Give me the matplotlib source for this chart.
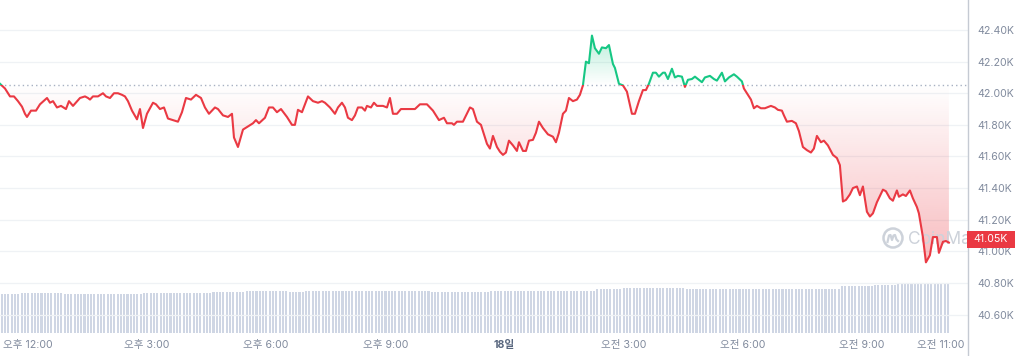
import numpy as np
import matplotlib
matplotlib.use("Agg")
import matplotlib.pyplot as plt
from matplotlib.patches import Rectangle, Circle
from matplotlib.lines import Line2D
from matplotlib.transforms import IdentityTransform

plt.rcParams['font.family'] = ['Inter', 'Noto Sans CJK KR', 'DejaVu Sans']

# ---- data: time in hours relative to 12:00 (day 17), price in thousands USD ----
hours = [-0.705, -0.579, -0.453, -0.353, -0.252, -0.151, -0.076, -0.025, 0.076, 0.202,
         0.302, 0.479, 0.554, 0.630, 0.730, 0.831, 0.957, 1.033, 1.134, 1.310,
         1.436, 1.511, 1.562, 1.637, 1.763, 1.889, 1.965, 2.065, 2.166, 2.267,
         2.368, 2.443, 2.519, 2.620, 2.746, 2.821, 2.897, 2.997, 3.149, 3.224,
         3.325, 3.426, 3.526, 3.652, 3.778, 3.879, 3.980, 4.106, 4.232, 4.358,
         4.458, 4.559, 4.710, 4.786, 4.912, 5.038, 5.139, 5.189, 5.290, 5.416,
         5.542, 5.668, 5.743, 5.819, 5.970, 6.071, 6.171, 6.272, 6.373, 6.524,
         6.650, 6.725, 6.801, 6.902, 7.053, 7.179, 7.305, 7.406, 7.481, 7.607,
         7.733, 7.809, 7.909, 7.985, 8.060, 8.161, 8.237, 8.312, 8.413, 8.489,
         8.539, 8.640, 8.715, 8.791, 8.942, 9.043, 9.118, 9.194, 9.295, 9.395,
         9.547, 9.748, 9.874, 10.050, 10.202, 10.353, 10.479, 10.554, 10.680, 10.730,
         10.806, 10.957, 11.134, 11.209, 11.310, 11.411, 11.562, 11.637, 11.713, 11.814,
         11.889, 11.965, 12.040, 12.116, 12.217, 12.317, 12.368, 12.469, 12.544, 12.620,
         12.720, 12.796, 12.872, 12.972, 13.098, 13.224, 13.300, 13.375, 13.476, 13.552,
         13.627, 13.728, 13.829, 13.904, 13.980, 14.055, 14.131, 14.207, 14.282, 14.383,
         14.458, 14.559, 14.635, 14.736, 14.786, 14.887, 14.987, 15.088, 15.214, 15.290,
         15.390, 15.491, 15.567, 15.642, 15.743, 15.819, 15.894, 15.995, 16.045, 16.121,
         16.222, 16.297, 16.373, 16.474, 16.549, 16.625, 16.725, 16.801, 16.877, 16.977,
         17.053, 17.179, 17.280, 17.355, 17.481, 17.557, 17.658, 17.783, 17.859, 17.985,
         18.035, 18.111, 18.212, 18.287, 18.363, 18.463, 18.564, 18.715, 18.816, 18.892,
         18.992, 19.043, 19.118, 19.244, 19.345, 19.421, 19.521, 19.622, 19.723, 19.798,
         19.874, 19.975, 20.050, 20.151, 20.277, 20.378, 20.453, 20.529, 20.605, 20.705,
         20.781, 20.882, 20.957, 21.033, 21.134, 21.209, 21.285, 21.385, 21.537, 21.612,
         21.713, 21.788, 21.889, 21.940, 22.040, 22.116, 22.217, 22.292, 22.393, 22.443,
         22.544, 22.620, 22.720, 22.796, 22.897, 22.947, 23.048, 23.123, 23.199]

price = [42.06, 42.03, 41.98, 41.98, 41.95, 41.915, 41.87, 41.85, 41.89, 41.89,
         41.93, 41.97, 41.94, 41.95, 41.91, 41.92, 41.90, 41.95, 41.92, 41.97,
         41.98, 41.97, 41.96, 41.98, 41.98, 42.00, 41.98, 41.97, 42.00, 42.00,
         41.99, 41.98, 41.95, 41.89, 41.835, 41.90, 41.78, 41.87, 41.94, 41.93,
         41.90, 41.91, 41.84, 41.83, 41.82, 41.88, 41.97, 41.96, 41.99, 41.97,
         41.91, 41.87, 41.91, 41.90, 41.86, 41.85, 41.87, 41.72, 41.66, 41.77,
         41.79, 41.81, 41.83, 41.81, 41.845, 41.91, 41.91, 41.88, 41.90, 41.85,
         41.80, 41.80, 41.895, 41.88, 41.98, 41.95, 41.94, 41.95, 41.94, 41.91,
         41.87, 41.91, 41.94, 41.91, 41.845, 41.83, 41.86, 41.91, 41.91, 41.89,
         41.92, 41.91, 41.94, 41.92, 41.92, 41.91, 41.97, 41.87, 41.87, 41.90,
         41.90, 41.90, 41.93, 41.93, 41.89, 41.83, 41.845, 41.81, 41.81, 41.80,
         41.82, 41.82, 41.91, 41.90, 41.82, 41.80, 41.68, 41.65, 41.73, 41.66,
         41.63, 41.61, 41.625, 41.70, 41.67, 41.635, 41.69, 41.635, 41.635, 41.70,
         41.705, 41.75, 41.82, 41.78, 41.74, 41.725, 41.69, 41.75, 41.87, 41.89,
         41.97, 41.95, 41.96, 41.99, 42.05, 42.20, 42.19, 42.365, 42.285, 42.25,
         42.29, 42.285, 42.305, 42.185, 42.16, 42.06, 42.05, 42.01, 41.87, 41.87,
         41.95, 42.02, 42.02, 42.06, 42.13, 42.13, 42.105, 42.13, 42.13, 42.09,
         42.155, 42.10, 42.11, 42.105, 42.04, 42.085, 42.09, 42.105, 42.09, 42.07,
         42.10, 42.11, 42.09, 42.08, 42.13, 42.075, 42.10, 42.12, 42.105, 42.075,
         42.03, 42.00, 41.96, 41.905, 41.92, 41.905, 41.905, 41.92, 41.91, 41.895,
         41.89, 41.86, 41.82, 41.825, 41.81, 41.76, 41.66, 41.64, 41.625, 41.65,
         41.73, 41.69, 41.70, 41.67, 41.61, 41.59, 41.545, 41.315, 41.325, 41.36,
         41.40, 41.41, 41.355, 41.41, 41.25, 41.22, 41.24, 41.31, 41.39, 41.38,
         41.335, 41.32, 41.385, 41.345, 41.36, 41.35, 41.385, 41.335, 41.28, 41.24,
         41.09, 40.93, 40.975, 41.09, 41.09, 40.99, 41.06, 41.065, 41.055]

base_price = 42.053          # opening price (dotted reference line)
last_label = "41.05K"

# volume (relative units) read as levels between time edges (hours)
vol_edges = [-0.20, 0.86, 2.90, 4.66, 5.47, 6.52, 6.98, 10.13, 11.64, 14.33,
             14.99, 16.55, 20.45, 21.28, 21.89, 22.64]
vol_levels = [118, 121, 117, 121, 123, 126, 124, 126, 122, 127, 133,
              136, 133, 140, 143, 146, 149]
bar_start, bar_end, bar_step = -0.66, 23.20, 5 / 60

yticks = [40.6, 40.8, 41.0, 41.2, 41.4, 41.6, 41.8, 42.0, 42.2, 42.4]
ytick_labels = ["40.60K", "40.80K", "41.00K", "41.20K", "41.40K", "41.60K",
                "41.80K", "42.00K", "42.20K", "42.40K"]
xticks = [0, 3, 6, 9, 12, 15, 18, 21, 23]
xtick_labels = ["오후 12:00", "오후 3:00", "오후 6:00", "오후 9:00", "18일",
                "오전 3:00", "오전 6:00", "오전 9:00", "오전 11:00"]

RED = "#ea3943"
GREEN = "#16c784"
GRID = "#eff2f5"
TXT = "#808a9d"
WM = "#cdd2da"

t = np.array(hours)
p = np.array(price)

W, H = 1018, 356
fig = plt.figure(figsize=(W / 100, H / 100), dpi=100)
fig.patch.set_facecolor("white")

ax_l, ax_r, ax_t, ax_b = 0, 968, 0, 333
pos = [ax_l / W, 1 - ax_b / H, (ax_r - ax_l) / W, (ax_b - ax_t) / H]

# volume axes (behind)
axv = fig.add_axes(pos)
axv.set_axis_off()
bar_t = np.arange(bar_start, bar_end + 1e-9, bar_step)
idx = np.searchsorted(vol_edges, bar_t)
vols = np.array(vol_levels)[idx]
axv.bar(bar_t, vols, width=bar_step * 0.62, color="#cfd6e4", linewidth=0)
axv.set_ylim(0, max(vol_levels) / 0.149)

ax = fig.add_axes(pos)
ax.patch.set_alpha(0)
xmin, xmax = -0.705, 23.68
ymin, ymax = 40.483, 42.59
axv.set_xlim(xmin, xmax)
for s in ax.spines.values():
    s.set_visible(False)

# grid lines
for yv in yticks:
    ax.axhline(yv, color=GRID, lw=0.9, zorder=0)
ax.axhline(base_price, color="#a7b1c2", lw=1.0, ls=(0, (1, 2.2)), zorder=1)

# gradient fills
def gradient_fill(y_from, y_to, rgb, a_from, a_to, vertsy):
    n = 256
    alphas = np.linspace(a_from, a_to, n)
    img = np.zeros((n, 1, 4))
    img[:, 0, :3] = matplotlib.colors.to_rgb(rgb)
    img[:, 0, 3] = alphas
    lo, hi = min(y_from, y_to), max(y_from, y_to)
    if y_from > y_to:
        img = img[::-1]
    im = ax.imshow(img, extent=[t[0], t[-1], lo, hi], origin="lower",
                   aspect="auto", zorder=2, interpolation="bilinear")
    verts = np.column_stack([np.r_[t[0], t, t[-1]],
                             np.r_[base_price, vertsy, base_price]])
    poly = plt.Polygon(verts, closed=True, transform=ax.transData,
                       facecolor="none", edgecolor="none")
    ax.add_patch(poly)
    im.set_clip_path(poly)

gradient_fill(base_price, p.min(), RED, 0.0, 0.34, np.minimum(p, base_price))
gradient_fill(base_price, p.max(), GREEN, 0.0, 0.30, np.maximum(p, base_price))
ax.set_xlim(xmin, xmax)
ax.set_ylim(ymin, ymax)

# price line, split colours at the base price
lr, = ax.plot(t, p, color=RED, lw=1.5, zorder=4, solid_joinstyle="round")
lg, = ax.plot(t, p, color=GREEN, lw=1.5, zorder=4, solid_joinstyle="round")
lr.set_clip_path(Rectangle((xmin, ymin), xmax - xmin, base_price - ymin,
                           transform=ax.transData))
lg.set_clip_path(Rectangle((xmin, base_price), xmax - xmin, ymax - base_price,
                           transform=ax.transData))

# axes ticks
ax.yaxis.tick_right()
ax.set_yticks(yticks)
ax.set_yticklabels(ytick_labels)
ax.tick_params(axis="y", length=0, pad=7, labelsize=7.6, labelcolor=TXT)
ax.set_xticks(xticks)
ax.set_xticklabels(xtick_labels)
ax.tick_params(axis="x", length=0, pad=5, labelsize=7.6, labelcolor=TXT)
for lab in ax.get_xticklabels():
    if lab.get_text() == "18일":
        lab.set_fontweight("bold")
        lab.set_color("#58667e")

# right axis line
fig.add_artist(Line2D([ax_r / W, ax_r / W], [0, 1], color="#c5cad3", lw=1.0))

# watermark logo (drawn as a shape) and name, clipped to the plot area
cx, cy = 893, H - 238
fig.add_artist(Circle((cx, cy), 9.5, transform=IdentityTransform(),
                      facecolor="none", edgecolor=WM, lw=1.8, zorder=3))
wave_x = np.array([-5.5, -4.0, -2.5, -1.0, 0.5, 2.0, 3.5, 5.0])
wave_y = np.array([-4.0, 2.5, 3.0, -2.0, 2.5, 3.0, -1.5, -3.0])
fig.add_artist(Line2D(cx + wave_x, cy + wave_y, transform=IdentityTransform(),
                      color=WM, lw=1.6, solid_joinstyle="round", zorder=3))
ax.text((908 - ax_l) / (ax_r - ax_l), 1 - (239 - ax_t) / (ax_b - ax_t),
        "CoinMarketCap", transform=ax.transAxes, fontsize=12.5, color=WM,
        ha="left", va="center", clip_on=True, zorder=3)

# last price tag
fig.add_artist(Rectangle((967 / W, 1 - 248 / H), 48 / W, 17 / H,
                         transform=fig.transFigure, facecolor=RED,
                         edgecolor="none", zorder=10))
fig.text(991 / W, 1 - 239.5 / H, last_label, fontsize=7.6, color="white",
         ha="center", va="center", zorder=11)

fig.savefig("out.png", dpi=100, facecolor="white")
